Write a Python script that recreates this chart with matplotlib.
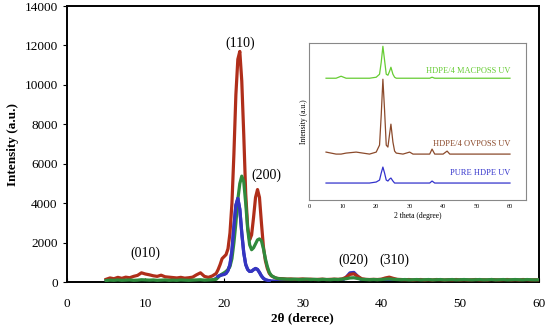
import numpy as np
import matplotlib
matplotlib.use("Agg")
import matplotlib.pyplot as plt

plt.rcParams["font.family"] = ["Liberation Serif", "DejaVu Serif"]

# main XRD patterns, 2theta grid (deg): 5-19 by 0.5, 19.25-27 by 0.25, 27.5-60 by 0.5
two_theta = np.concatenate([np.arange(5, 19.01, 0.5),
                            np.arange(19.25, 27.01, 0.25),
                            np.arange(27.5, 60.01, 0.5)])

ovposs = [150, 220, 180, 250, 200, 260, 230, 300, 350, 480, 420, 380, 330, 300, 360,
          280, 260, 240, 220, 250, 210, 230, 260, 380, 480, 300, 250, 320, 450,
          650, 900, 1200, 1300, 1400, 1700, 2500, 4000, 6500, 9500, 11300, 11700, 10200,
          7500, 4500, 2800, 2150, 2400, 3300, 4300, 4700, 4300, 3000, 1800, 1100, 700,
          450, 330, 280, 230, 200, 190,
          180, 160, 170, 150, 160, 170, 150, 160, 140, 150, 160,
          140, 150, 160, 150, 170, 250, 400, 430, 300, 180, 150,
          140, 150, 140, 160, 220, 260, 200, 150, 140, 130, 140,
          120, 130, 140, 120, 130, 120, 140, 130, 120, 130, 120,
          140, 120, 130, 120, 130, 140, 120, 130, 120, 140, 130,
          120, 130, 140, 120, 130, 120, 140, 130, 120, 130, 120]

macposs = [90, 110, 100, 120, 100, 110, 120, 100, 110, 130, 120, 110, 120, 100, 110,
           120, 100, 110, 100, 120, 110, 100, 110, 120, 130, 110, 120, 130, 150,
           250, 350, 420, 480, 550, 650, 800, 1200, 2000, 3000, 4200, 5000, 5380, 5100,
           4000, 2700, 1900, 1650, 1750, 1950, 2150, 2200, 2100, 1700, 1200, 800,
           500, 350, 280, 230, 200, 180,
           170, 160, 150, 160, 140, 150, 160, 140, 150, 130, 150,
           140, 130, 150, 140, 160, 180, 220, 230, 190, 150, 140,
           130, 140, 130, 140, 160, 170, 150, 140, 130, 140, 120,
           130, 140, 120, 130, 140, 120, 130, 140, 120, 130, 140,
           120, 130, 140, 130, 120, 130, 140, 120, 130, 140, 120,
           130, 140, 120, 130, 140, 130, 120, 140, 130, 120, 130]

pure = [80, 80, 80, 80, 80, 80, 80, 80, 80, 80, 80, 80, 80, 80, 80,
        80, 80, 80, 80, 80, 80, 80, 80, 80, 80, 80, 80, 100, 200,
        300, 350, 380, 400, 450, 600, 900, 1600, 2800, 3900, 4250, 3700, 2500, 1500,
        900, 650, 550, 560, 640, 700, 650, 500, 320, 200, 130, 100, 80,
        70, 70, 60, 60, 60,
        60, 60, 60, 60, 60, 60, 60, 60, 60, 60, 60,
        60, 60, 60, 60, 80, 250, 480, 500, 300, 100, 60,
        60, 60, 60, 60, 60, 60, 60, 60, 60, 60, 60,
        60, 60, 60, 60, 60, 60, 60, 60, 60, 60, 60,
        60, 60, 60, 60, 60, 60, 60, 60, 60, 60, 60,
        60, 60, 60, 60, 60, 60, 60, 60, 60, 60, 60]

peak_labels = ["(010)", "(110)", "(200)", "(020)", "(310)"]
peak_x = [10.0, 22.0, 25.4, 36.4, 41.6]
peak_y = [1480, 12100, 5430, 1130, 1130]

# inset (stacked, arbitrary units)
inset_x = [5, 8, 9.5, 11, 14, 18, 20, 21, 21.5, 22, 22.5, 23, 23.5, 24, 24.4, 25,
           25.5, 26, 28, 30, 31, 33, 36, 36.7, 37.5, 40, 41.2, 42, 45, 50, 55, 60]
inset_mac = [122, 122, 124, 122, 122, 122, 123, 126, 138, 154, 140, 126, 125, 129, 133, 126,
             123, 122, 122, 122, 122, 122, 122, 123, 122, 122, 122, 122, 122, 122, 122, 122]
inset_ov = [48, 46, 46, 47, 48, 46, 48, 55, 85, 121, 90, 55, 53, 66, 76, 58,
            49, 47, 46, 48, 46, 46, 46, 51, 46, 46, 49, 46, 46, 46, 46, 46]
inset_pure = [17, 17, 17, 17, 17, 17, 18, 20, 27, 33, 27, 20, 19, 21, 22, 19,
              17, 17, 17, 17, 17, 17, 17, 19, 17, 17, 17, 17, 17, 17, 17, 17]
inset_names = ["HDPE/4 MACPOSS UV", "HDPE/4 OVPOSS UV", "PURE HDPE UV"]
inset_colors = ["#66cc33", "#8b4a2b", "#3333cc"]
inset_label_y = [129, 56, 27]

fig = plt.figure(figsize=(5.5, 3.25), dpi=100)
ax = fig.add_axes([0.1213, 0.1314, 0.8583, 0.8501])
ax.plot(two_theta, pure, color="#3535c0", lw=2.3, zorder=2)
ax.plot(two_theta, ovposs, color="#b02e1a", lw=2.3, zorder=3)
ax.plot(two_theta, macposs, color="#2f8a3c", lw=2.3, zorder=4)
# keep the blue peaks visible above the green trace
ax.plot(two_theta[29:56], pure[29:56], color="#3535c0", lw=2.3, zorder=5)
for lab, px, py in zip(peak_labels, peak_x, peak_y):
    ax.text(px, py, lab, ha="center", va="center", fontsize=10)
ax.set_xlim(0, 60)
ax.set_ylim(0, 14000)
ax.set_xticks(range(0, 61, 10))
ax.set_yticks(range(0, 14001, 2000))
ax.tick_params(axis="x", direction="in", length=3, labelsize=9.5, pad=11)
ax.tick_params(axis="y", direction="out", length=3, labelsize=9.5)
for s in ax.spines.values():
    s.set_linewidth(1.4)
ax.set_xlabel("2θ (derece)", fontsize=9.5, fontweight="bold", labelpad=2)
ax.set_ylabel("Intensity (a.u.)", fontsize=9.5, fontweight="bold", labelpad=4)

ins = fig.add_axes([0.5624, 0.3846, 0.3934, 0.4822])
for ys, c, name, ly in zip([inset_mac, inset_ov, inset_pure], inset_colors,
                           inset_names, inset_label_y):
    ins.plot(inset_x, ys, color=c, lw=0.9)
    ins.text(60, ly, name, color=c, ha="right", va="center", fontsize=6)
ins.set_xlim(0, 64.7)
ins.set_ylim(0, 157)
ins.set_xticks(range(0, 61, 10))
ins.set_yticks([])
ins.tick_params(axis="x", length=0, labelsize=4.5, pad=3)
for s in ins.spines.values():
    s.set_color("#888888")
    s.set_linewidth(0.8)
ins.set_xlabel("2 theta (degree)", fontsize=5.5, labelpad=2)
ins.set_ylabel("Intensity (a.u.)", fontsize=5.5, labelpad=1)

fig.savefig("out.png", dpi=100, facecolor="white")
